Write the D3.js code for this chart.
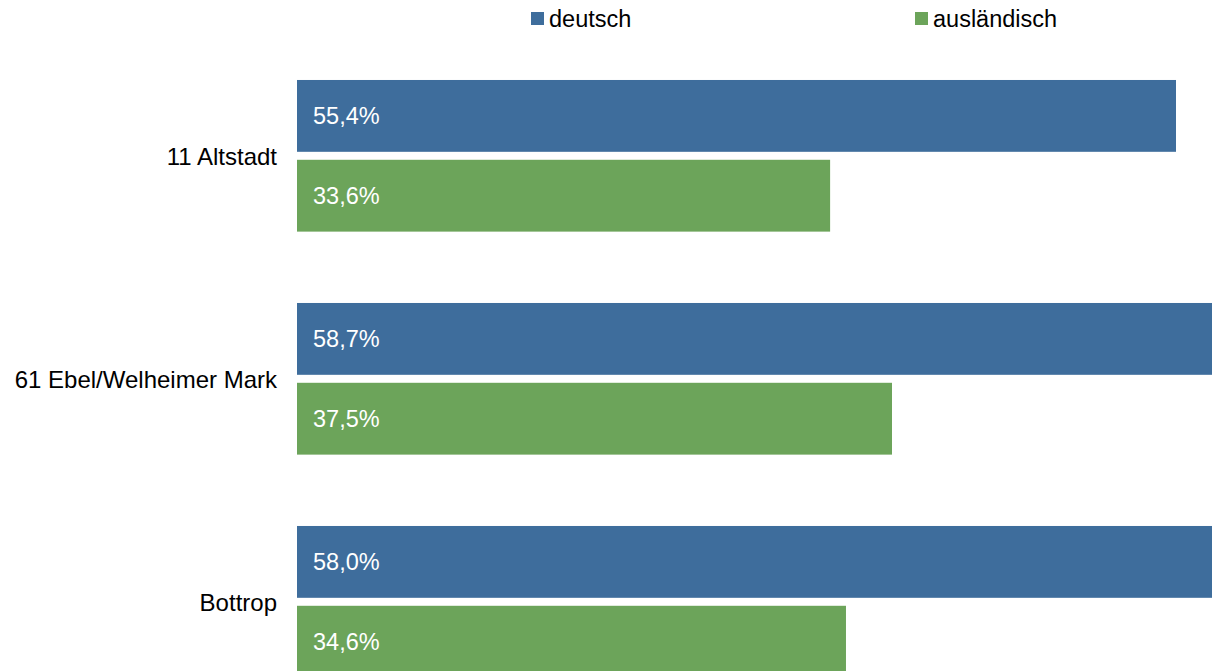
<!DOCTYPE html>
<html lang="de">
  <head>
    <meta charset="UTF-8" />
    <title>deutsch / ausländisch</title>
    <script src="https://d3js.org/d3.v7.min.js"></script>
    <style>
      body { margin: 0; background: #fff; }
      svg { display: block; font-family: "Liberation Sans", Arial, sans-serif; }
    </style>
  </head>
  <body>
    <script>
      // data
      const categories = ["11 Altstadt", "61 Ebel/Welheimer Mark", "Bottrop"];
      const seriesNames = ["deutsch", "ausländisch"];
      const deutsch = [55.4, 58.7, 58.0];
      const auslaendisch = [33.6, 37.5, 34.6];
      const colors = ["#3e6d9c", "#6ca45a"];

      const width = 1212, height = 671;
      const fontSize = 23.5;

      const svg = d3.select("body").append("svg")
        .attr("width", width)
        .attr("height", height);

      // x: 0 at 297, 55.4 at 1176
      const x = d3.scaleLinear().domain([0, 60]).range([297, 297 + 60 * (1176 - 297) / 55.4]);

      const y0 = d3.scaleBand().domain(categories).range([44.3, 713.3]).paddingInner(0.32).paddingOuter(0.16);
      const y1 = d3.scaleBand().domain(seriesNames).range([0, y0.bandwidth()]).paddingInner(0.1);

      const rows = categories.map((c, i) => ({
        cat: c,
        values: [
          { key: seriesNames[0], v: deutsch[i], color: colors[0] },
          { key: seriesNames[1], v: auslaendisch[i], color: colors[1] }
        ]
      }));

      const g = svg.selectAll("g.grp").data(rows).join("g")
        .attr("class", "grp")
        .attr("transform", d => `translate(0,${y0(d.cat)})`);

      g.selectAll("rect").data(d => d.values).join("rect")
        .attr("x", x(0))
        .attr("y", d => y1(d.key))
        .attr("width", d => x(d.v) - x(0))
        .attr("height", y1.bandwidth())
        .attr("fill", d => d.color);

      g.selectAll("text.val").data(d => d.values).join("text")
        .attr("class", "val")
        .attr("x", x(0) + 16)
        .attr("y", d => y1(d.key) + y1.bandwidth() / 2)
        .attr("dy", "0.35em")
        .attr("fill", "#fff")
        .attr("font-size", fontSize)
        .text(d => d.v.toFixed(1).replace(".", ",") + "%");

      // category labels, a touch wider than the value labels in the reference
      g.append("text")
        .attr("x", 277)
        .attr("y", y0.bandwidth() / 2 + 1)
        .attr("dy", "0.35em")
        .attr("text-anchor", "end")
        .attr("font-size", 24)
        .attr("fill", "#000")
        .text(d => d.cat);

      // legend
      const legendX = [531, 915];
      const lg = svg.selectAll("g.leg").data(seriesNames).join("g")
        .attr("class", "leg")
        .attr("transform", (d, i) => `translate(${legendX[i]},0)`);
      lg.append("rect")
        .attr("x", 0).attr("y", 12)
        .attr("width", 13).attr("height", 13)
        .attr("fill", (d, i) => colors[i]);
      lg.append("text")
        .attr("x", 18).attr("y", 19)
        .attr("dy", "0.35em")
        .attr("font-size", fontSize)
        .text(d => d);
    </script>
  </body>
</html>
